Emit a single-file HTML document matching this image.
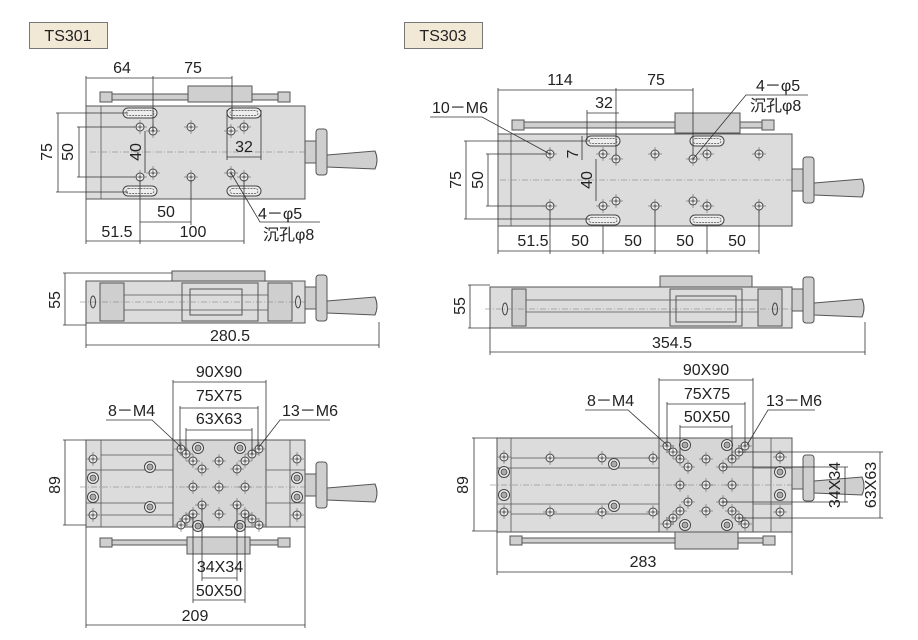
<!DOCTYPE html>
<html><head><meta charset="utf-8"><style>
html,body{margin:0;padding:0;background:#fff}
svg{display:block}
text{font-family:"Liberation Sans","Noto Sans CJK SC",sans-serif;font-size:16px;fill:#222}
.b{fill:#dcdcdc;stroke:#555;stroke-width:1}
.d{stroke:#333;stroke-width:0.8;fill:none}
.c{stroke:#777;stroke-width:0.6;stroke-dasharray:6 2 1 2;fill:none}
.l{stroke:#555;stroke-width:0.8;fill:none}
.h{fill:#cfcfcf;stroke:#555;stroke-width:1}
</style></head><body>
<svg width="918" height="640" viewBox="0 0 918 640" xmlns="http://www.w3.org/2000/svg">
<defs>
<g id="ho"><circle r="4" fill="#eee" stroke="#444" stroke-width="1"/><circle r="1.5" fill="#888"/><line x1="-7" y1="0" x2="7" y2="0" stroke="#666" stroke-width="0.6"/><line x1="0" y1="-7" x2="0" y2="7" stroke="#666" stroke-width="0.6"/></g>
<g id="hb"><circle r="5.5" fill="#eee" stroke="#444" stroke-width="1"/><circle r="3" fill="#aaa" stroke="#444" stroke-width="0.8"/></g>
<g id="sl"><rect x="-17" y="-5" width="34" height="10" rx="5" fill="#eee" stroke="#444"/><rect x="-14" y="-2.5" width="28" height="5" rx="2.5" fill="none" stroke="#777" stroke-dasharray="2 1"/></g>
<g id="hdl"><rect x="0" y="-11" width="11" height="22" class="h"/><rect x="11" y="-23" width="11" height="46" rx="3" class="h"/><path d="M22,3 L70,-1 Q74,8 70,17 L22,15 Z" class="h"/></g>
</defs>

<rect x="29.5" y="22.5" width="78" height="26" fill="#f2e8d6" stroke="#777"/>
<text x="68" y="41" text-anchor="middle">TS301</text>
<rect x="404.5" y="22.5" width="78" height="26" fill="#f2e8d6" stroke="#777"/>
<text x="443" y="41" text-anchor="middle">TS303</text>

<rect x="100" y="94" width="190" height="6" class="h"/>
<rect x="100" y="92" width="12" height="10" class="h"/><rect x="278" y="92" width="12" height="10" class="h"/>
<rect x="188" y="86" width="64" height="16" class="h"/>
<rect x="86" y="106" width="219" height="93" class="b"/>
<line x1="101" y1="106" x2="101" y2="199" class="l"/>
<line x1="90" y1="152" x2="305" y2="152" class="c"/>
<use href="#hdl" x="305" y="152"/>
<use href="#sl" x="140" y="113"/><use href="#sl" x="244" y="113"/>
<use href="#sl" x="140" y="191"/><use href="#sl" x="244" y="191"/>
<use href="#ho" x="140" y="127"/><use href="#ho" x="153" y="131"/><use href="#ho" x="191" y="127"/><use href="#ho" x="231" y="131"/><use href="#ho" x="244" y="127"/>
<use href="#ho" x="140" y="177"/><use href="#ho" x="153" y="173"/><use href="#ho" x="191" y="177"/><use href="#ho" x="231" y="173"/><use href="#ho" x="244" y="177"/>
<line x1="86" y1="78" x2="232" y2="78" class="d"/>
<line x1="86" y1="76" x2="86" y2="106" class="d"/><line x1="153" y1="76" x2="153" y2="131" class="d"/><line x1="232" y1="76" x2="232" y2="120" class="d"/>
<text x="122" y="73" text-anchor="middle">64</text><text x="193" y="73" text-anchor="middle">75</text>
<line x1="58" y1="113" x2="58" y2="192" class="d"/><line x1="56" y1="113" x2="128" y2="113" class="d"/><line x1="56" y1="192" x2="128" y2="192" class="d"/>
<text transform="translate(52,152) rotate(-90)" text-anchor="middle">75</text>
<line x1="79" y1="127" x2="79" y2="177" class="d"/><line x1="77" y1="127" x2="135" y2="127" class="d"/><line x1="77" y1="177" x2="135" y2="177" class="d"/>
<text transform="translate(73,152) rotate(-90)" text-anchor="middle">50</text>
<line x1="145" y1="131" x2="145" y2="173" class="d"/>
<text transform="translate(141,152) rotate(-90)" text-anchor="middle">40</text>
<line x1="227" y1="157" x2="261" y2="157" class="d"/><line x1="227" y1="110" x2="227" y2="160" class="d"/><line x1="261" y1="110" x2="261" y2="160" class="d"/>
<text x="244" y="152" text-anchor="middle">32</text>
<line x1="140" y1="222" x2="191" y2="222" class="d"/>
<line x1="140" y1="180" x2="140" y2="225" class="d"/><line x1="191" y1="180" x2="191" y2="225" class="d"/>
<text x="166" y="217" text-anchor="middle">50</text>
<line x1="86" y1="241" x2="244" y2="241" class="d"/>
<line x1="86" y1="199" x2="86" y2="244" class="d"/><line x1="140" y1="225" x2="140" y2="244" class="d"/><line x1="244" y1="180" x2="244" y2="244" class="d"/>
<text x="117" y="237" text-anchor="middle">51.5</text><text x="193" y="237" text-anchor="middle">100</text>
<polyline points="231,173 260,222 320,222" class="d"/>
<text x="258" y="219">4－φ5</text>
<text x="263" y="240">沉孔φ8</text>

<rect x="86" y="281" width="219" height="42" class="b"/>
<rect x="172" y="271" width="93" height="10" class="h"/>
<rect x="100" y="283" width="24" height="38" class="h"/><rect x="268" y="283" width="24" height="38" class="h"/>
<rect x="182" y="283" width="76" height="38" fill="none" stroke="#555"/>
<rect x="190" y="289" width="52" height="26" fill="none" stroke="#555"/>
<line x1="124" y1="295" x2="268" y2="295" class="l"/><line x1="124" y1="310" x2="268" y2="310" class="l"/>
<line x1="80" y1="302" x2="310" y2="302" class="c"/>
<ellipse cx="93" cy="302" rx="2.5" ry="6" fill="none" stroke="#444"/><ellipse cx="298" cy="302" rx="2.5" ry="6" fill="none" stroke="#444"/>
<use href="#hdl" x="305" y="298"/>
<line x1="65" y1="273" x2="65" y2="325" class="d"/><line x1="63" y1="273" x2="172" y2="273" class="d"/><line x1="63" y1="325" x2="86" y2="325" class="d"/>
<text transform="translate(60,300) rotate(-90)" text-anchor="middle">55</text>
<line x1="86" y1="345" x2="379" y2="345" class="d"/><line x1="86" y1="323" x2="86" y2="348" class="d"/><line x1="379" y1="322" x2="379" y2="348" class="d"/>
<text x="230" y="341" text-anchor="middle">280.5</text>

<rect x="100" y="540" width="190" height="5" class="h"/>
<rect x="100" y="538" width="12" height="9" class="h"/><rect x="278" y="538" width="12" height="9" class="h"/>
<rect x="187" y="537" width="63" height="17" class="h"/>
<rect x="86" y="440" width="219" height="87" class="b"/>
<rect x="173" y="440" width="93" height="87" fill="#d6d6d6" stroke="#555"/>
<line x1="101" y1="440" x2="101" y2="527" class="l"/><line x1="290" y1="440" x2="290" y2="527" class="l"/>
<line x1="86" y1="470" x2="173" y2="470" class="l"/><line x1="86" y1="503" x2="173" y2="503" class="l"/>
<line x1="266" y1="470" x2="305" y2="470" class="l"/><line x1="266" y1="503" x2="305" y2="503" class="l"/>
<line x1="101" y1="455" x2="173" y2="455" class="l"/><line x1="101" y1="515" x2="173" y2="515" class="l"/>
<line x1="80" y1="487" x2="310" y2="487" class="c"/>
<use href="#hdl" x="305" y="485"/>
<use href="#ho" x="93" y="459"/><use href="#hb" x="93" y="478"/><use href="#hb" x="93" y="497"/><use href="#ho" x="93" y="515"/>
<use href="#ho" x="297" y="459"/><use href="#hb" x="297" y="478"/><use href="#hb" x="297" y="497"/><use href="#ho" x="297" y="515"/>
<use href="#hb" x="150" y="467"/><use href="#hb" x="150" y="507"/>
<use href="#hb" x="198" y="448"/><use href="#hb" x="240" y="448"/><use href="#hb" x="198" y="526"/><use href="#hb" x="240" y="526"/>
<use href="#ho" x="181" y="449"/><use href="#ho" x="259" y="449"/><use href="#ho" x="181" y="525"/><use href="#ho" x="259" y="525"/>
<use href="#ho" x="186" y="454"/><use href="#ho" x="252" y="454"/><use href="#ho" x="186" y="519"/><use href="#ho" x="252" y="519"/>
<use href="#ho" x="193" y="461"/><use href="#ho" x="245" y="461"/><use href="#ho" x="193" y="514"/><use href="#ho" x="245" y="514"/>
<use href="#ho" x="202" y="469"/><use href="#ho" x="237" y="469"/><use href="#ho" x="202" y="505"/><use href="#ho" x="237" y="505"/>
<use href="#ho" x="219" y="461"/><use href="#ho" x="193" y="487"/><use href="#ho" x="219" y="487"/><use href="#ho" x="245" y="487"/><use href="#ho" x="219" y="514"/>
<line x1="65" y1="440" x2="65" y2="525" class="d"/><line x1="63" y1="440" x2="86" y2="440" class="d"/><line x1="63" y1="525" x2="86" y2="525" class="d"/>
<text transform="translate(60,485) rotate(-90)" text-anchor="middle">89</text>
<line x1="173" y1="382" x2="266" y2="382" class="d"/><line x1="173" y1="380" x2="173" y2="440" class="d"/><line x1="266" y1="380" x2="266" y2="440" class="d"/>
<text x="219" y="377" text-anchor="middle">90X90</text>
<line x1="180" y1="408" x2="258" y2="408" class="d"/><line x1="180" y1="406" x2="180" y2="449" class="d"/><line x1="258" y1="406" x2="258" y2="449" class="d"/>
<text x="219" y="401" text-anchor="middle">75X75</text>
<line x1="186" y1="430" x2="252" y2="430" class="d"/><line x1="186" y1="428" x2="186" y2="454" class="d"/><line x1="252" y1="428" x2="252" y2="454" class="d"/>
<text x="219" y="424" text-anchor="middle">63X63</text>
<polyline points="106,420 152,420 181,447" class="d"/><text x="108" y="416">8－M4</text>
<polyline points="330,420 280,420 259,447" class="d"/><text x="282" y="416">13－M6</text>
<line x1="202" y1="578" x2="237" y2="578" class="d"/><line x1="202" y1="505" x2="202" y2="581" class="d"/><line x1="237" y1="505" x2="237" y2="581" class="d"/>
<text x="220" y="572" text-anchor="middle">34X34</text>
<line x1="193" y1="600" x2="245" y2="600" class="d"/><line x1="193" y1="514" x2="193" y2="603" class="d"/><line x1="245" y1="514" x2="245" y2="603" class="d"/>
<text x="219" y="596" text-anchor="middle">50X50</text>
<line x1="86" y1="625" x2="305" y2="625" class="d"/><line x1="86" y1="527" x2="86" y2="628" class="d"/><line x1="305" y1="527" x2="305" y2="628" class="d"/>
<text x="195" y="621" text-anchor="middle">209</text>

<rect x="512" y="122" width="262" height="6" class="h"/>
<rect x="512" y="120" width="12" height="10" class="h"/><rect x="762" y="120" width="12" height="10" class="h"/>
<rect x="675" y="113" width="65" height="20" class="h"/>
<rect x="498" y="134" width="294" height="92" class="b"/>
<line x1="511" y1="134" x2="511" y2="226" class="l"/>
<line x1="500" y1="180" x2="800" y2="180" class="c"/>
<use href="#hdl" x="792" y="180"/>
<use href="#sl" x="603" y="141"/><use href="#sl" x="707" y="141"/><use href="#sl" x="603" y="220"/><use href="#sl" x="707" y="220"/>
<use href="#ho" x="550" y="154"/><use href="#ho" x="603" y="154"/><use href="#ho" x="655" y="154"/><use href="#ho" x="707" y="154"/><use href="#ho" x="759" y="154"/>
<use href="#ho" x="550" y="206"/><use href="#ho" x="603" y="206"/><use href="#ho" x="655" y="206"/><use href="#ho" x="707" y="206"/><use href="#ho" x="759" y="206"/>
<use href="#ho" x="616" y="159"/><use href="#ho" x="693" y="159"/><use href="#ho" x="616" y="201"/><use href="#ho" x="693" y="201"/>
<line x1="498" y1="90" x2="693" y2="90" class="d"/><line x1="498" y1="88" x2="498" y2="134" class="d"/><line x1="616" y1="88" x2="616" y2="155" class="d"/><line x1="693" y1="88" x2="693" y2="155" class="d"/>
<text x="560" y="85" text-anchor="middle">114</text><text x="656" y="85" text-anchor="middle">75</text>
<line x1="587" y1="113" x2="619" y2="113" class="d"/><line x1="587" y1="110" x2="587" y2="140" class="d"/>
<text x="604" y="108" text-anchor="middle">32</text>
<text transform="translate(578,154) rotate(-90)" text-anchor="middle">7</text>
<line x1="582" y1="136" x2="582" y2="160" class="d"/>
<line x1="596" y1="159" x2="596" y2="201" class="d"/>
<text transform="translate(592,180) rotate(-90)" text-anchor="middle">40</text>
<line x1="466" y1="141" x2="466" y2="219" class="d"/><line x1="464" y1="141" x2="590" y2="141" class="d"/><line x1="464" y1="219" x2="590" y2="219" class="d"/>
<text transform="translate(461,180) rotate(-90)" text-anchor="middle">75</text>
<line x1="488" y1="154" x2="488" y2="206" class="d"/><line x1="486" y1="154" x2="545" y2="154" class="d"/><line x1="486" y1="206" x2="545" y2="206" class="d"/>
<text transform="translate(483,180) rotate(-90)" text-anchor="middle">50</text>
<polyline points="430,117 482,117 550,154" class="d"/><text x="432" y="113">10－M6</text>
<polyline points="693,159 746,95 808,95" class="d"/><text x="756" y="91">4－φ5</text><text x="750" y="111">沉孔φ8</text>
<line x1="498" y1="251" x2="759" y2="251" class="d"/>
<line x1="498" y1="226" x2="498" y2="254" class="d"/><line x1="550" y1="210" x2="550" y2="254" class="d"/><line x1="603" y1="226" x2="603" y2="254" class="d"/><line x1="655" y1="210" x2="655" y2="254" class="d"/><line x1="707" y1="226" x2="707" y2="254" class="d"/><line x1="759" y1="210" x2="759" y2="254" class="d"/>
<text x="533" y="246" text-anchor="middle">51.5</text><text x="580" y="246" text-anchor="middle">50</text><text x="633" y="246" text-anchor="middle">50</text><text x="685" y="246" text-anchor="middle">50</text><text x="737" y="246" text-anchor="middle">50</text>

<rect x="490" y="287" width="302" height="41" class="b"/>
<rect x="660" y="276" width="92" height="11" class="h"/>
<rect x="512" y="289" width="14" height="37" class="h"/><rect x="758" y="289" width="24" height="37" class="h"/>
<rect x="670" y="289" width="72" height="37" fill="none" stroke="#555"/>
<rect x="676" y="296" width="60" height="26" fill="none" stroke="#555"/>
<line x1="526" y1="300" x2="758" y2="300" class="l"/><line x1="526" y1="312" x2="758" y2="312" class="l"/>
<line x1="485" y1="309" x2="800" y2="309" class="c"/>
<ellipse cx="505" cy="309" rx="2.5" ry="6" fill="none" stroke="#444"/><ellipse cx="775" cy="309" rx="2.5" ry="6" fill="none" stroke="#444"/>
<use href="#hdl" x="792" y="300"/>
<line x1="470" y1="285" x2="470" y2="328" class="d"/><line x1="468" y1="285" x2="490" y2="285" class="d"/><line x1="468" y1="328" x2="490" y2="328" class="d"/>
<text transform="translate(465,306) rotate(-90)" text-anchor="middle">55</text>
<line x1="490" y1="352" x2="865" y2="352" class="d"/><line x1="490" y1="328" x2="490" y2="355" class="d"/><line x1="865" y1="322" x2="865" y2="355" class="d"/>
<text x="672" y="348" text-anchor="middle">354.5</text>

<rect x="510" y="538" width="265" height="5" class="h"/>
<rect x="510" y="536" width="12" height="9" class="h"/><rect x="763" y="536" width="12" height="9" class="h"/>
<rect x="675" y="532" width="63" height="17" class="h"/>
<rect x="497" y="438" width="295" height="94" class="b"/>
<rect x="659" y="438" width="94" height="94" fill="#d6d6d6" stroke="#555"/>
<line x1="511" y1="438" x2="511" y2="532" class="l"/><line x1="771" y1="438" x2="771" y2="532" class="l"/>
<line x1="511" y1="458" x2="659" y2="458" class="l"/><line x1="497" y1="468" x2="659" y2="468" class="l"/><line x1="497" y1="504" x2="659" y2="504" class="l"/><line x1="511" y1="514" x2="659" y2="514" class="l"/>
<line x1="753" y1="468" x2="792" y2="468" class="l"/><line x1="753" y1="504" x2="792" y2="504" class="l"/>
<line x1="490" y1="485" x2="800" y2="485" class="c"/>
<use href="#hdl" x="792" y="478"/>
<use href="#ho" x="504" y="457"/><use href="#hb" x="504" y="472"/><use href="#hb" x="504" y="495"/><use href="#ho" x="504" y="512"/>
<use href="#ho" x="780" y="457"/><use href="#hb" x="780" y="472"/><use href="#hb" x="780" y="495"/><use href="#ho" x="780" y="512"/>
<use href="#ho" x="550" y="458"/><use href="#ho" x="602" y="458"/><use href="#ho" x="653" y="458"/><use href="#ho" x="550" y="512"/><use href="#ho" x="602" y="512"/><use href="#ho" x="653" y="512"/>
<use href="#hb" x="614" y="464"/><use href="#hb" x="614" y="506"/>
<use href="#hb" x="685" y="445"/><use href="#hb" x="727" y="445"/><use href="#hb" x="685" y="525"/><use href="#hb" x="727" y="525"/>
<use href="#ho" x="667" y="446"/><use href="#ho" x="745" y="446"/><use href="#ho" x="667" y="524"/><use href="#ho" x="745" y="524"/>
<use href="#ho" x="673" y="452"/><use href="#ho" x="739" y="452"/><use href="#ho" x="673" y="518"/><use href="#ho" x="739" y="518"/>
<use href="#ho" x="680" y="459"/><use href="#ho" x="732" y="459"/><use href="#ho" x="680" y="511"/><use href="#ho" x="732" y="511"/>
<use href="#ho" x="688" y="467"/><use href="#ho" x="723" y="467"/><use href="#ho" x="688" y="502"/><use href="#ho" x="723" y="502"/>
<use href="#ho" x="706" y="459"/><use href="#ho" x="680" y="485"/><use href="#ho" x="706" y="485"/><use href="#ho" x="732" y="485"/><use href="#ho" x="706" y="511"/>
<line x1="474" y1="438" x2="474" y2="531" class="d"/><line x1="472" y1="438" x2="497" y2="438" class="d"/><line x1="472" y1="531" x2="497" y2="531" class="d"/>
<text transform="translate(468,485) rotate(-90)" text-anchor="middle">89</text>
<line x1="659" y1="380" x2="753" y2="380" class="d"/><line x1="659" y1="378" x2="659" y2="438" class="d"/><line x1="753" y1="378" x2="753" y2="438" class="d"/>
<text x="706" y="375" text-anchor="middle">90X90</text>
<line x1="667" y1="404" x2="745" y2="404" class="d"/><line x1="667" y1="402" x2="667" y2="446" class="d"/><line x1="745" y1="402" x2="745" y2="446" class="d"/>
<text x="707" y="399" text-anchor="middle">75X75</text>
<line x1="680" y1="427" x2="732" y2="427" class="d"/><line x1="680" y1="425" x2="680" y2="459" class="d"/><line x1="732" y1="425" x2="732" y2="459" class="d"/>
<text x="707" y="422" text-anchor="middle">50X50</text>
<polyline points="585,410 628,410 667,445" class="d"/><text x="587" y="406">8－M4</text>
<polyline points="815,410 768,410 747,445" class="d"/><text x="766" y="406">13－M6</text>
<line x1="845" y1="467" x2="845" y2="502" class="d"/><line x1="723" y1="467" x2="848" y2="467" class="d"/><line x1="723" y1="502" x2="848" y2="502" class="d"/>
<text transform="translate(840,485) rotate(-90)" text-anchor="middle">34X34</text>
<line x1="880" y1="452" x2="880" y2="518" class="d"/><line x1="739" y1="452" x2="883" y2="452" class="d"/><line x1="739" y1="518" x2="883" y2="518" class="d"/>
<text transform="translate(876,485) rotate(-90)" text-anchor="middle">63X63</text>
<line x1="497" y1="572" x2="792" y2="572" class="d"/><line x1="497" y1="532" x2="497" y2="575" class="d"/><line x1="792" y1="532" x2="792" y2="575" class="d"/>
<text x="643" y="567" text-anchor="middle">283</text>
</svg>
</body></html>
